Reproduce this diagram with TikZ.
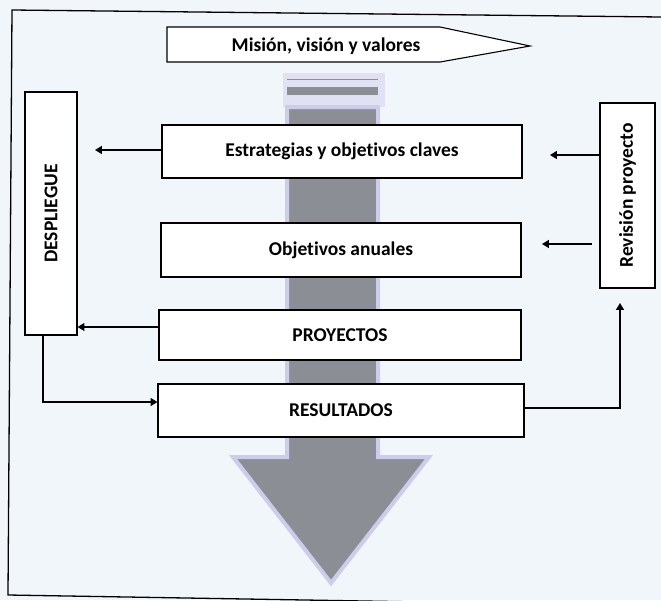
\documentclass[tikz,border=0pt]{standalone}
\usepackage{fontspec}
\setmainfont{Carlito}[Ligatures=NoCommon]
\usepackage{tikz}
\usetikzlibrary{arrows.meta}
\tikzset{%
  tipA/.tip={Triangle[angle=60:8pt]},
  caja/.style={draw, line width=1.1pt, fill=white, font=\bfseries\fontsize{19.5}{22}\selectfont},
  flecha/.style={line width=1.4pt, -tipA},
  linea/.style={line width=1.3pt}
}
\definecolor{papel}{RGB}{241,246,251}
\definecolor{gris}{RGB}{140,142,150}
\definecolor{lila}{RGB}{205,205,235}

\begin{document}
\begin{tikzpicture}[x=1pt,y=-1pt]
\useasboundingbox (0,0) rectangle (661,600);
\fill [papel] (0,0) rectangle (661,600);
% marco
\begin{scope}
\clip (0,0) rectangle (661,600);
\draw [line width=1.3pt] (661,17) -- (12,10) -- (8,595) -- (661,606);
\end{scope}
% flecha gris de fondo
\fill [lila!60] (283,73) rectangle (385,107);
\draw [gris, line width=1pt] (287,79) -- (378,79);
\fill [gris] (287,87) rectangle (378,95);
\draw [lila, line width=4pt, fill=gris] (287,107) -- (378,107) -- (378,457) -- (429,457)
  -- (331,583) -- (233,457) -- (287,457) -- cycle;
% mision
\draw [line width=1.1pt, fill=white] (167,27) -- (440,27) -- (530,46) -- (440,62) -- (167,62) -- cycle;
\node (mision) [font=\bfseries\fontsize{19.5}{22}\selectfont] at (326,46) {Misión, visión y valores};
% cajas centrales
\node (estrat) [caja, minimum width=360pt, minimum height=53pt] at (342,151.5) {Estrategias y objetivos claves};
\node (anual) [caja, minimum width=360pt, minimum height=54pt] at (341,250) {Objetivos anuales};
\node (proy) [caja, minimum width=362pt, minimum height=50pt] at (340,335) {PROYECTOS};
\node (result) [caja, minimum width=366pt, minimum height=53pt] at (341,410.5) {RESULTADOS};
% laterales
\node (despl) [caja, minimum width=243pt, minimum height=52pt, rotate=90] at (51,213.5) {DESPLIEGUE};
\node (revis) [caja, minimum width=185pt, minimum height=55pt, rotate=90] at (627.5,195.5) {Revisión proyecto};
% conectores
\coordinate (e1) at (95,150);
\coordinate (r1) at (550,155);
\coordinate (r2) at (592,244);
\coordinate (r3) at (542,244);
\coordinate (d1) at (43,402);
\coordinate (v1) at (620,408);
\draw [flecha] (estrat.west |- e1) -- (e1);
\draw [flecha] (proy.west |- 0,327) -- (despl.south |- 0,327);
\draw [flecha] (revis.north |- r1) -- (r1);
\draw [flecha] (r2) -- (r3);
\draw [flecha] (d1 |- despl.west) -- (d1) -- (result.west |- d1);
\draw [flecha] (result.east |- v1) -- (v1) -- (v1 |- 0,303);
\end{tikzpicture}
\end{document}
